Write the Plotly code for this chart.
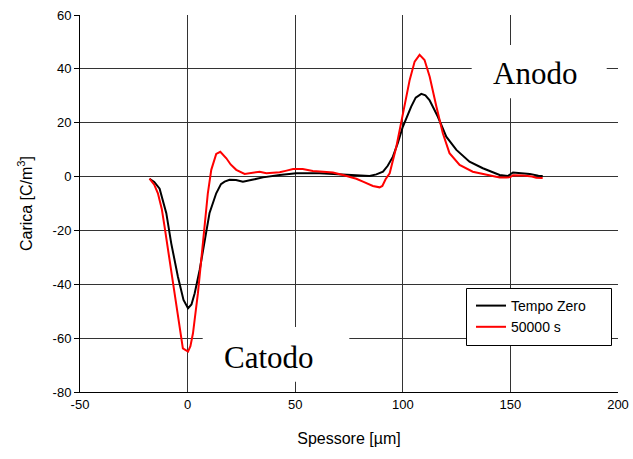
import plotly.graph_objects as go

# Tempo Zero
x_t0 = [-17.7, -15.5, -13, -11.5, -9.9, -7.6, -6, -4.5, -1.9, 0.2, 1.8, 3.3, 5.6, 7.9, 10.2, 13.3, 15.5,
        17.2, 19.5, 22.5, 25.7, 30, 35, 42.8, 50.5, 61.3, 70.6, 75.3, 81.3, 84.6, 87.7, 90.8, 93, 95.4,
        97.7, 100, 103.9, 106, 108.6, 110.5, 112.4, 116.3, 120.2, 124.9, 131, 137.2, 145, 148.8, 151.2,
        155, 159, 163, 165]
y_t0 = [-0.8, -2.0, -4.5, -8.5, -13.6, -24.8, -31, -37.2, -45.8, -48.9, -47.5, -43.3, -34.7, -24.7, -13.5,
        -6.2, -2.8, -1.9, -1.2, -1.3, -1.9, -1.2, -0.3, 0.6, 1.2, 1.2, 0.8, 0.6, 0.2, 0.2, 0.8, 1.8, 4,
        7.4, 12.5, 18.5, 26, 29.3, 30.7, 30.2, 28.4, 22.2, 14.8, 9.9, 5.5, 3.1, 0.6, 0.2, 1.5, 1.2, 1.0,
        0.3, 0.2]

# 50000 s
x_50k = [-17.7, -15.5, -13.8, -12, -10.7, -8.4, -6, -3.7, -2.2, 0.2, 1.3, 2.5, 3.5, 4.8, 7.1, 9.4, 11,
         12.5, 13.3, 15.2, 18, 20, 22.6, 26.5, 30, 33.5, 36.6, 42.8, 46, 49, 53.5, 58.2, 63, 67.5, 72.2,
         75.3, 78.4, 81.5, 84.6, 86.1, 89.2, 90.5, 92, 93.9, 97, 100, 103.2, 105.5, 107.8, 110.1, 112.5,
         115.6, 118.6, 121.7, 126.4, 132.5, 140.3, 145, 148.1, 150, 151.2, 156, 160, 162, 165]
y_50k = [-0.8, -3, -6.2, -12, -18.6, -31, -43.3, -57, -63.8, -65, -63, -58.2, -52, -43.3, -24.8, -6.2,
         2.5, 6.2, 8.4, 9.2, 6.8, 4.5, 2.5, 1.0, 1.3, 1.8, 1.2, 1.6, 2.2, 2.8, 2.8, 2.1, 1.8, 1.5, 0.6,
         0, -0.8, -1.9, -3.1, -3.5, -4.0, -3.5, -1, 1.2, 11.1, 23.5, 35.9, 42.7, 45.2, 43.3, 37.1, 26,
         16.1, 8.7, 4.3, 1.8, 0.6, -0.3, -0.3, -0.2, 0.5, 0.4, 0, -0.4, -0.5]

series_names = ["Tempo Zero", "50000 s"]
x_ticks = [-50, 0, 50, 100, 150, 200]
y_ticks = [-80, -60, -40, -20, 0, 20, 40, 60]

SANS = "Arial, Liberation Sans, sans-serif"
SERIF = "Times New Roman, Liberation Serif, serif"

fig = go.Figure()
fig.add_trace(go.Scatter(x=x_t0, y=y_t0, mode="lines", name=series_names[0],
                         line=dict(color="black", width=2)))
fig.add_trace(go.Scatter(x=x_50k, y=y_50k, mode="lines", name=series_names[1],
                         line=dict(color="#ff0000", width=2)))

L, T, W, H = 80, 15, 538, 377


def px(xp):
    return (xp - L) / W


def py(yp):
    return (T + H - yp) / H


# white boxes behind the two text labels (they do not overlap the curves) + legend frame
shapes = [
    dict(type="rect", xref="paper", yref="paper", layer="above",
         x0=px(202.7), x1=px(349.3), y0=py(381.7), y1=py(327),
         fillcolor="white", line=dict(width=0)),
    dict(type="rect", xref="paper", yref="paper", layer="above",
         x0=px(471.7), x1=px(606.7), y0=py(98.3), y1=py(45),
         fillcolor="white", line=dict(width=0)),
    dict(type="rect", xref="paper", yref="paper", layer="above",
         x0=px(466.5), x1=px(611.5), y0=py(345.5), y1=py(288.5),
         fillcolor="white", line=dict(width=1, color="black")),
]

annotations = [
    dict(x=px(269), y=py(357), xref="paper", yref="paper", text="Catodo", showarrow=False,
         font=dict(family=SERIF, size=31, color="black"), xanchor="center", yanchor="middle"),
    dict(x=px(535), y=py(73), xref="paper", yref="paper", text="Anodo", showarrow=False,
         font=dict(family=SERIF, size=31, color="black"), xanchor="center", yanchor="middle"),
]

fig.update_layout(
    width=633, height=459,
    margin=dict(l=L, r=633 - L - W, t=T, b=459 - T - H, autoexpand=False),
    paper_bgcolor="white", plot_bgcolor="white",
    font=dict(family=SANS, size=13, color="black"),
    showlegend=True,
    legend=dict(x=px(471), y=py(290), xanchor="left", yanchor="top",
                bgcolor="rgba(0,0,0,0)", borderwidth=0,
                font=dict(family=SANS, size=14, color="black"),
                tracegroupgap=0),
    shapes=shapes,
    annotations=annotations,
)

fig.update_xaxes(range=[-50, 200], tickvals=x_ticks, ticktext=[str(v) for v in x_ticks],
                 automargin=False,
                 showgrid=True, gridcolor="#333", gridwidth=1, zeroline=False,
                 showline=True, linecolor="black", linewidth=1, ticks="",
                 tickfont=dict(family=SANS, size=13, color="black"),
                 title=dict(text="Spessore [µm]", font=dict(family=SANS, size=16, color="black"),
                            standoff=22))
fig.update_yaxes(range=[-80, 60], tickvals=y_ticks, ticktext=[str(v) for v in y_ticks],
                 automargin=False,
                 showgrid=True, gridcolor="#333", gridwidth=1, zeroline=False,
                 showline=True, linecolor="black", linewidth=1, ticks="outside", ticklen=5,
                 tickcolor="black",
                 tickfont=dict(family=SANS, size=13, color="black"),
                 title=dict(text="Carica [C/m<sup>3</sup>]",
                            font=dict(family=SANS, size=16, color="black"), standoff=16))

fig.write_html("out.html")
